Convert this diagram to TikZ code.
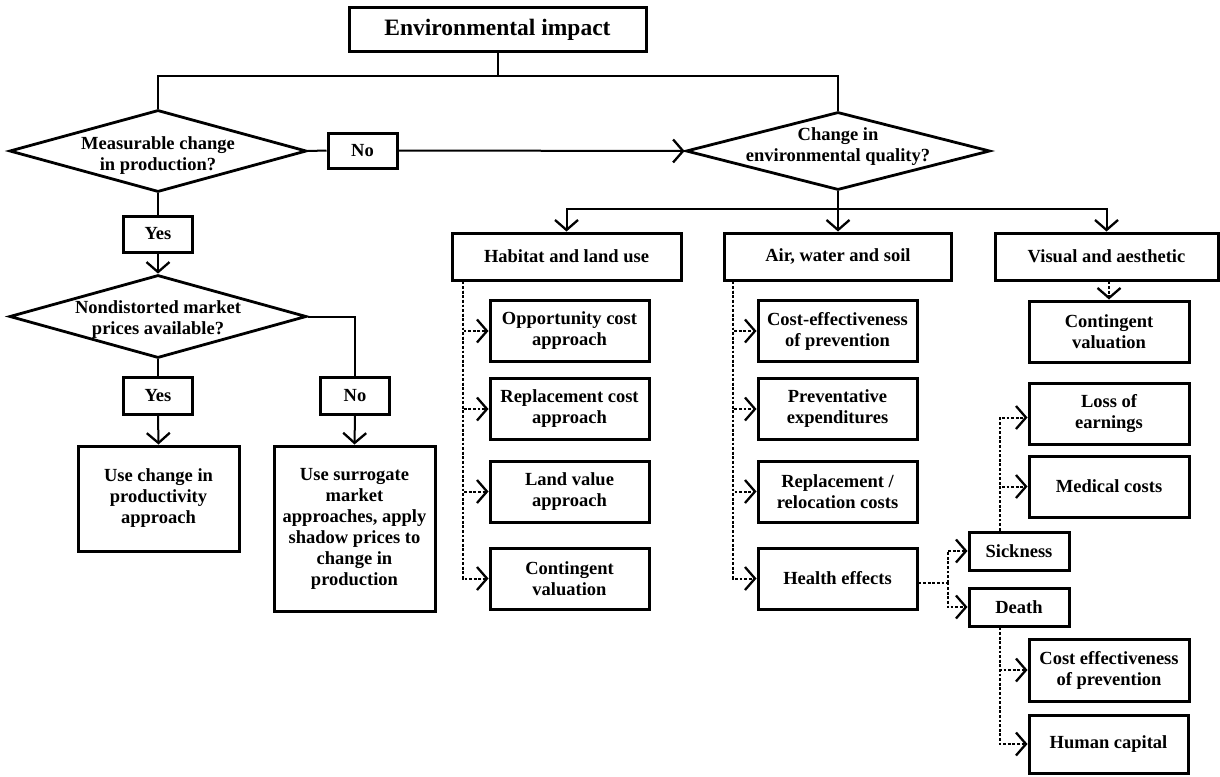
\documentclass[tikz,border=0pt]{standalone}
\usepackage{fontspec}
\setmainfont{Liberation Serif}
\usetikzlibrary{arrows.meta,shapes.geometric}
\tikzset{
  txt/.style={font=\bfseries\fontsize{18.5}{21}\selectfont, align=center},
  box/.style={txt, draw, line width=3pt, inner sep=1pt},
  sz/.style 2 args={minimum width=#1pt, minimum height=#2pt},
  dia/.style={draw, diamond, line width=2.8pt, inner sep=0pt},
  link/.style={line width=2pt},
  dot/.style={line width=2pt, dash pattern=on 2.8pt off 1.8pt},
  tip/.style={-{Straight Barb[length=10pt,width=23pt,line width=2.3pt]}},
}
\begin{document}
\begin{tikzpicture}[x=1pt,y=-1pt]
\useasboundingbox (0,0) rectangle (1220,776);

% decision part
\node[box, sz={297}{44}, font=\bfseries\fontsize{23.5}{26}\selectfont] (title) at (497.5,30) {Environmental impact};
\node[dia, sz={297}{82}, label={[txt,yshift=-5pt]center:Measurable change\\in production?}] (d1) at (158,151) {};
\node[box, sz={69}{35}] (no1) at (362.5,150.5) {No};
\node[dia, sz={304}{78}, label={[txt,yshift=4pt]center:Change in\\environmental quality?}] (d2) at (838,151) {};
\node[box, sz={69}{36}] (yes1) at (158,234) {Yes};
\node[dia, sz={297}{83}, label={[txt,yshift=-3pt]center:Nondistorted market\\prices available?}] (d3) at (158,316.5) {};
\node[box, sz={69}{37}] (yes2) at (158,395.5) {Yes};
\node[box, sz={69}{37}] (no2) at (355,395.5) {No};
\node[box, sz={161}{105}] (prod) at (158.5,498.5) {Use change in\\productivity\\approach};
\node[box, sz={161}{165}] (surr) at (354.5,528.5) {Use surrogate\\market\\approaches, apply\\shadow prices to\\change in\\production};

% impact categories
\node[box, sz={229}{47}] (hab) at (566.5,256.5) {Habitat and land use};
\node[box, sz={227}{47}] (air) at (838,256.5) {Air, water and soil};
\node[box, sz={223}{47}] (vis) at (1106.5,256.5) {Visual and aesthetic};

% habitat methods
\node[box, sz={159}{61}] (opp) at (569.5,331) {Opportunity cost\\approach};
\node[box, sz={159}{61}] (repl) at (569.5,409) {Replacement cost\\approach};
\node[box, sz={159}{61}] (land) at (569.5,491.5) {Land value\\approach};
\node[box, sz={159}{61}] (hcont) at (569.5,578.5) {Contingent\\valuation};

% air, water and soil methods
\node[box, sz={159}{61}] (cep) at (837.5,331) {Cost-effectiveness\\of prevention};
\node[box, sz={159}{61}] (prev) at (837.5,409) {Preventative\\expenditures};
\node[box, sz={159}{61}] (reloc) at (837.5,491.5) {Replacement /\\relocation costs};
\node[box, sz={159}{61}] (health) at (837.5,578.5) {Health effects};

% visual methods and health outcomes
\node[box, sz={160}{61}] (vcont) at (1109,331.5) {Contingent\\valuation};
\node[box, sz={160}{61}] (loss) at (1109,413.5) {Loss of\\earnings};
\node[box, sz={160}{61}] (med) at (1109,486.5) {Medical costs};
\node[box, sz={100}{38}] (sick) at (1019,551) {Sickness};
\node[box, sz={100}{38}] (death) at (1019,607) {Death};
\node[box, sz={160}{62}] (ce) at (1109,670) {Cost effectiveness\\of prevention};
\node[box, sz={159}{58}] (hcap) at (1108.5,744) {Human capital};

% solid connectors
\coordinate (j0) at (497.5,76);
\draw[link] (title.south) -- (j0);
\draw[link] (j0) -| (d1.north);
\draw[link] (j0) -| (d2.north);
\draw[link] (d1.east) -- (no1.west);
\draw[link,tip] (no1.east) -- (d2.west);
\draw[link] (d1.south) -- (yes1.north);
\draw[link,tip] (yes1.south) -- (d3.north);
\draw[link] (d3.south) -- (yes2.north);
\draw[link] (d3.east) -| (no2.north);
\draw[link,tip] (yes2.south) -- (prod.north);
\draw[link,tip] (no2.south) -- (surr.north);
\coordinate (j1) at (838,209);
\draw[link] (d2.south) -- (j1);
\draw[link,tip] (j1) -| (hab.north);
\draw[link,tip] (j1) -- (air.north);
\draw[link,tip] (j1) -| (vis.north);

% dotted connectors
\coordinate (ht) at ([xshift=12pt]hab.south west);
\foreach \c in {opp,repl,land,hcont} \draw[dot,tip] (ht) |- (\c.west);
\coordinate (at) at ([xshift=10pt]air.south west);
\foreach \c in {cep,prev,reloc,health} \draw[dot,tip] (at) |- (\c.west);
\draw[dot,tip] (vcont.north |- vis.south) -- (vcont.north);
\coordinate (hs) at ([yshift=-4pt]health.east);
\coordinate (hj) at ([xshift=29pt]hs);
\draw[dot] (hs) -- (hj);
\draw[dot,tip] (hj) |- (sick.west);
\draw[dot,tip] (hj) |- (death.west);
\coordinate (st) at ([xshift=-19pt]sick.north);
\draw[dot,tip] (st) |- ([yshift=-4pt]loss.west);
\draw[dot,tip] (st) |- (med.west);
\coordinate (dt) at ([xshift=-19pt]death.south);
\draw[dot,tip] (dt) |- (ce.west);
\draw[dot,tip] (dt) |- (hcap.west);
\end{tikzpicture}
\end{document}
